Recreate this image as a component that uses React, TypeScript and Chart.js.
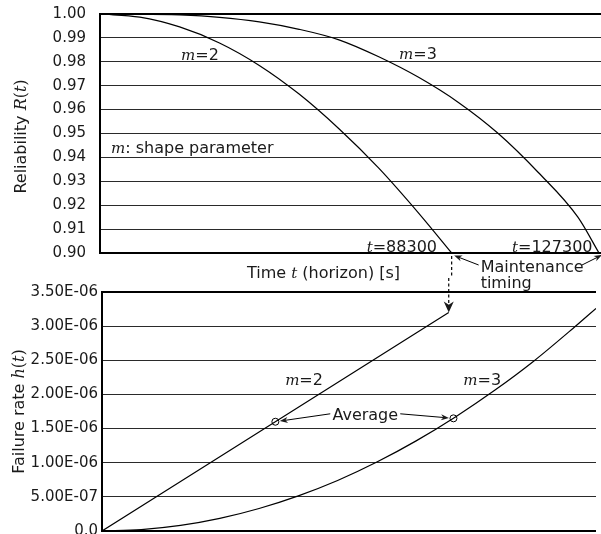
import React, { useEffect, useRef } from 'react';
import { Chart, registerables } from 'chart.js';

Chart.register(...registerables);

// ---------- data ----------
const X_MAX = 125800;

// Top panel: reliability R(t)
const timeM2 = [0, 10000, 20000, 30000, 40000, 50000, 60000, 70000, 80000, 88300];
const reliabilityM2 = [1.0, 0.9987, 0.9946, 0.9879, 0.9785, 0.9665, 0.952, 0.9355, 0.9167, 0.9];
const timeM3 = [0, 10000, 20000, 30000, 40000, 50000, 60000, 70000, 80000, 90000, 100000, 110000, 120000, 125300];
const reliabilityM3 = [1.0, 0.99995, 0.9996, 0.9986, 0.9967, 0.9936, 0.9892, 0.9821, 0.9735, 0.963, 0.95, 0.9338, 0.915, 0.9];
const reliabilityTicks = [0.9, 0.91, 0.92, 0.93, 0.94, 0.95, 0.96, 0.97, 0.98, 0.99, 1.0];

// Bottom panel: failure rate h(t)
const timeH2 = [0, 20000, 40000, 60000, 80000, 88300];
const hazardM2 = [0, 0.725e-6, 1.45e-6, 2.175e-6, 2.9e-6, 3.2e-6];
const timeH3 = [0, 10000, 20000, 30000, 40000, 50000, 60000, 70000, 80000, 90000, 100000, 110000, 120000, 125800];
const hazardM3 = [0, 0.021e-6, 0.082e-6, 0.185e-6, 0.33e-6, 0.515e-6, 0.74e-6, 1.01e-6, 1.32e-6, 1.67e-6, 2.06e-6, 2.49e-6, 2.97e-6, 3.26e-6];
const averageTime = [44150, 89500];
const averageHazard = [1.6e-6, 1.65e-6];
const hazardTicks = [0, 5e-7, 1e-6, 1.5e-6, 2e-6, 2.5e-6, 3e-6, 3.5e-6];

const maintenanceTimeM2 = 88300;

// ---------- drawing helpers ----------
const TEXT = '#1a1a1a';
const SANS = '"DejaVu Sans", sans-serif';
type Seg = { t: string; f: string };
const sans = (t: string, size = 16): Seg => ({ t, f: `${size}px ${SANS}` });
const math = (t: string, size = 16): Seg => ({ t, f: `italic ${size}px "DejaVu Serif", serif` });
const upr = (t: string, size = 16): Seg => ({ t, f: `${size}px "DejaVu Serif", serif` });

function rich(ctx: CanvasRenderingContext2D, segs: Seg[], x: number, y: number, align: 'left' | 'center' | 'right') {
  ctx.textBaseline = 'alphabetic';
  ctx.textAlign = 'left';
  const ws = segs.map((s) => {
    ctx.font = s.f;
    return ctx.measureText(s.t).width;
  });
  const total = ws.reduce((a, b) => a + b, 0);
  let cx = align === 'left' ? x : align === 'center' ? x - total / 2 : x - total;
  segs.forEach((s, i) => {
    ctx.font = s.f;
    ctx.fillText(s.t, cx, y);
    cx += ws[i];
  });
}

function arrowHead(ctx: CanvasRenderingContext2D, x1: number, y1: number, x2: number, y2: number, len = 8, half = 3) {
  const ang = Math.atan2(y2 - y1, x2 - x1);
  const c = Math.cos(ang), s = Math.sin(ang);
  const bx = x2 - len * c, by = y2 - len * s;
  ctx.beginPath();
  ctx.moveTo(x2, y2);
  ctx.lineTo(bx - half * s, by + half * c);
  ctx.lineTo(x2 - 0.7 * len * c, y2 - 0.7 * len * s);
  ctx.lineTo(bx + half * s, by - half * c);
  ctx.closePath();
  ctx.fill();
}

function arrow(ctx: CanvasRenderingContext2D, x1: number, y1: number, x2: number, y2: number) {
  const ang = Math.atan2(y2 - y1, x2 - x1);
  ctx.setLineDash([]);
  ctx.beginPath();
  ctx.moveTo(x1, y1);
  ctx.lineTo(x2 - 5 * Math.cos(ang), y2 - 5 * Math.sin(ang));
  ctx.stroke();
  arrowHead(ctx, x1, y1, x2, y2);
}

function fmtExp(v: number): string {
  if (Math.abs(v) < 1e-15) return '0.0';
  const [m, e] = v.toExponential(2).split('e');
  const n = parseInt(e, 10);
  return m.toUpperCase() + 'E' + (n < 0 ? '-' : '+') + String(Math.abs(n)).padStart(2, '0');
}

const pts = (xs: number[], ys: number[]) => xs.map((x, i) => ({ x, y: ys[i] }));

const lineDs = (data: { x: number; y: number }[], mono = true) => ({
  data,
  borderColor: '#000',
  borderWidth: 1.2,
  pointRadius: 0,
  fill: false,
  tension: 0,
  cubicInterpolationMode: mono ? 'monotone' : 'default',
});

const gridFor = (n: number) => ({
  drawTicks: false,
  color: (c: any) => (c.index === 0 || c.index === n - 1 ? '#000' : '#2a2a2a'),
  lineWidth: (c: any) => (c.index === 0 || c.index === n - 1 ? 2 : 1),
});

// ---------- plugins ----------
const topAnnotations = {
  id: 'topAnnotations',
  afterDraw(chart: any) {
    const { ctx, chartArea: a, scales } = chart;
    const x = scales.x, y = scales.y;
    const px = (t: number) => x.getPixelForValue(t);
    const py = (r: number) => y.getPixelForValue(r);
    ctx.save();
    ctx.fillStyle = TEXT;
    ctx.strokeStyle = '#000';
    ctx.lineWidth = 1;

    rich(ctx, [math('m', 15), sans('=2')], px(20340), py(0.9833) + 6, 'left');
    rich(ctx, [math('m', 15), sans('=3')], px(75080), py(0.9837) + 6, 'left');
    rich(ctx, [math('m', 15), sans(': shape parameter')], px(2760), py(0.9444) + 6, 'left');
    rich(ctx, [math('t', 15), sans('=88300')], px(84620), py(0.9031) + 6, 'right');
    rich(ctx, [math('t', 15), sans('=127300')], px(103450), py(0.9031) + 6, 'left');

    // x-axis title
    rich(ctx, [sans('Time '), math('t', 15), sans(' (horizon) [s]')], 247, a.bottom + 25, 'left');

    // y-axis title (rotated)
    ctx.save();
    ctx.translate(20, (a.top + a.bottom) / 2 + 3);
    ctx.rotate(-Math.PI / 2);
    rich(ctx, [sans('Reliability '), math('R', 16), upr('('), math('t', 16), upr(')')], 0, 6, 'center');
    ctx.restore();

    // Maintenance timing
    const xm = px(maintenanceTimeM2);
    rich(ctx, [sans('Maintenance')], xm + 29, a.bottom + 19, 'left');
    rich(ctx, [sans('timing')], xm + 29, a.bottom + 35, 'left');
    arrow(ctx, xm + 27, a.bottom + 12, xm + 2.5, a.bottom + 2.5);
    arrow(ctx, a.right - 19, a.bottom + 12, a.right + 1, a.bottom + 2);

    // dotted line (continues in lower chart)
    ctx.setLineDash([3, 2.5]);
    ctx.lineWidth = 1.2;
    ctx.beginPath();
    ctx.moveTo(xm, a.bottom + 3);
    ctx.lineTo(xm, 278);
    ctx.stroke();
    ctx.restore();
  },
};

const bottomAnnotations = {
  id: 'bottomAnnotations',
  afterDraw(chart: any) {
    const { ctx, chartArea: a, scales } = chart;
    const x = scales.x, y = scales.y;
    const px = (t: number) => x.getPixelForValue(t);
    const py = (h: number) => y.getPixelForValue(h);
    ctx.save();
    ctx.fillStyle = TEXT;
    ctx.strokeStyle = '#000';
    ctx.lineWidth = 1;

    rich(ctx, [math('m', 15), sans('=2')], px(46640), py(2.2215e-6) + 6, 'left');
    rich(ctx, [math('m', 15), sans('=3')], px(92020), py(2.2215e-6) + 6, 'left');

    // Average label + arrows
    const avgCx = px(67040);
    const avgCy = py(1.709e-6);
    rich(ctx, [sans('Average')], avgCx, avgCy + 6, 'center');
    const c1x = px(averageTime[0]), c1y = py(averageHazard[0]);
    const c2x = px(averageTime[1]), c2y = py(averageHazard[1]);
    const s1x = avgCx - 35, s1y = avgCy - 0.5;
    const s2x = avgCx + 35, s2y = avgCy - 0.5;
    let d = Math.hypot(s1x - c1x, s1y - c1y);
    arrow(ctx, s1x, s1y, c1x + ((s1x - c1x) / d) * 4.5, c1y + ((s1y - c1y) / d) * 4.5);
    d = Math.hypot(s2x - c2x, s2y - c2y);
    arrow(ctx, s2x, s2y, c2x + ((s2x - c2x) / d) * 4.5, c2y + ((s2y - c2y) / d) * 4.5);

    // y-axis title
    ctx.save();
    ctx.translate(18, (a.top + a.bottom) / 2);
    ctx.rotate(-Math.PI / 2);
    rich(ctx, [sans('Failure rate '), math('h', 16), upr('('), math('t', 16), upr(')')], 0, 6, 'center');
    ctx.restore();

    // dotted arrow from the upper chart
    const xm = px(maintenanceTimeM2);
    const tipY = py(hazardM2[hazardM2.length - 1]);
    ctx.setLineDash([3, 2.5]);
    ctx.lineWidth = 1.2;
    ctx.beginPath();
    ctx.moveTo(xm, 0);
    ctx.lineTo(xm, tipY - 8);
    ctx.stroke();
    ctx.setLineDash([]);
    arrowHead(ctx, xm, tipY - 20, xm, tipY, 11, 5);
    ctx.restore();
  },
};

// ---------- component ----------
export default function App() {
  const topRef = useRef<HTMLCanvasElement>(null);
  const botRef = useRef<HTMLCanvasElement>(null);

  useEffect(() => {
    Chart.defaults.font.family = SANS;

    const top = new Chart(topRef.current as HTMLCanvasElement, {
      type: 'line',
      data: {
        datasets: [lineDs(pts(timeM2, reliabilityM2)), lineDs(pts(timeM3, reliabilityM3))] as any,
      },
      options: {
        animation: false,
        responsive: false,
        layout: { padding: { left: 0, right: 0, top: 14, bottom: 47 } },
        plugins: { legend: { display: false }, tooltip: { enabled: false } },
        scales: {
          x: { type: 'linear', min: 0, max: X_MAX, display: false },
          y: {
            type: 'linear',
            min: 0.9,
            max: 1.0,
            afterBuildTicks: (s: any) => {
              s.ticks = reliabilityTicks.map((v) => ({ value: v }));
            },
            afterFit: (s: any) => {
              s.width = 100;
              s.paddingTop = 0;
              s.paddingBottom = 0;
            },
            ticks: {
              autoSkip: false,
              padding: 14,
              color: TEXT,
              font: { size: 15, family: SANS },
              callback: (v: any) => Number(v).toFixed(2),
            },
            grid: gridFor(reliabilityTicks.length) as any,
            border: { display: true, color: '#000', width: 2 },
          },
        },
      } as any,
      plugins: [topAnnotations],
    });

    const bot = new Chart(botRef.current as HTMLCanvasElement, {
      type: 'line',
      data: {
        datasets: [
          lineDs(pts(timeH2, hazardM2), false),
          lineDs(pts(timeH3, hazardM3)),
          {
            data: pts(averageTime, averageHazard),
            showLine: false,
            pointRadius: 3.5,
            pointBorderWidth: 1,
            pointBorderColor: '#000',
            pointBackgroundColor: 'rgba(0,0,0,0)',
          },
        ] as any,
      },
      options: {
        animation: false,
        responsive: false,
        layout: { padding: { left: 0, right: 0, top: 14, bottom: 17 } },
        plugins: { legend: { display: false }, tooltip: { enabled: false } },
        scales: {
          x: { type: 'linear', min: 0, max: X_MAX, display: false },
          y: {
            type: 'linear',
            min: 0,
            max: 3.5e-6,
            afterBuildTicks: (s: any) => {
              s.ticks = hazardTicks.map((v) => ({ value: v }));
            },
            afterFit: (s: any) => {
              s.width = 102;
              s.paddingTop = 0;
              s.paddingBottom = 0;
            },
            ticks: {
              autoSkip: false,
              padding: 4,
              color: TEXT,
              font: { size: 15, family: SANS },
              callback: (v: any) => fmtExp(Number(v)),
            },
            grid: gridFor(hazardTicks.length) as any,
            border: { display: true, color: '#000', width: 2 },
          },
        },
      } as any,
      plugins: [bottomAnnotations],
    });

    return () => {
      top.destroy();
      bot.destroy();
    };
  }, []);

  return (
    <div style={{ position: 'absolute', left: 0, top: 0, width: 601, height: 534, background: '#fff', overflow: 'hidden' }}>
      <canvas ref={topRef} width={601} height={300} style={{ position: 'absolute', left: 0, top: 0 }} />
      <canvas ref={botRef} width={601} height={270} style={{ position: 'absolute', left: 0, top: 278 }} />
    </div>
  );
}
